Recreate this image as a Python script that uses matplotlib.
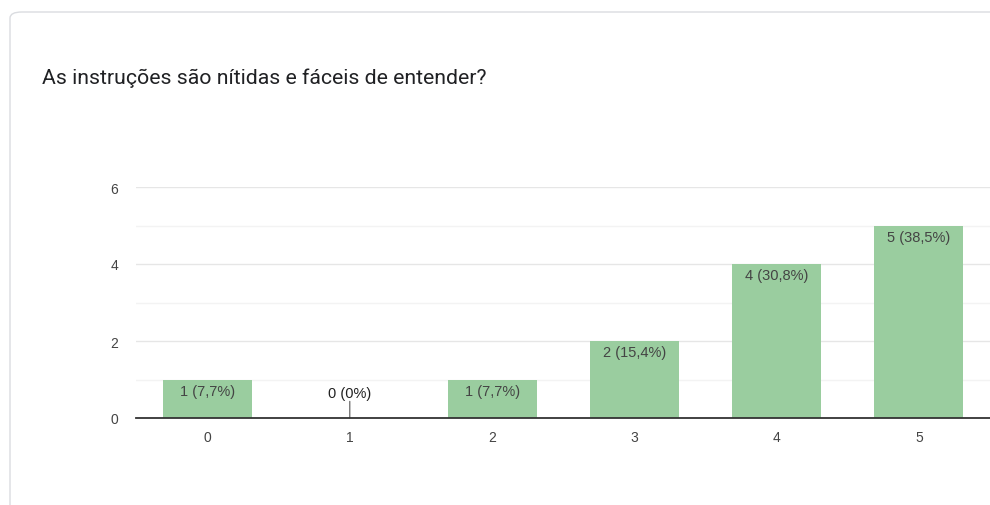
import numpy as np
import matplotlib.pyplot as plt
from matplotlib.patches import FancyBboxPatch

# --- DATEN ---
categories = ["0", "1", "2", "3", "4", "5"]
counts = [1, 0, 1, 2, 4, 5]
labels = ["1 (7,7%)", "0 (0%)", "1 (7,7%)", "2 (15,4%)", "4 (30,8%)", "5 (38,5%)"]
title = "As instruções são nítidas e fáceis de entender?"

W, H = 990, 506
BAR_COLOR = "#9acd9f"
TEXT_COLOR = "#444444"
CHART_FONT = ['Liberation Sans', 'DejaVu Sans']

plt.rcParams['font.family'] = ['Roboto', 'DejaVu Sans']

fig = plt.figure(figsize=(W / 100, H / 100), dpi=100)
fig.patch.set_facecolor("white")

# Karte mit abgerundetem Rand (rechts/unten abgeschnitten)
card = FancyBboxPatch((10 / W, -20 / H), 1.2, (H - 13 + 20) / H,
                      boxstyle="round,pad=0,rounding_size=0.012",
                      transform=fig.transFigure, facecolor="white",
                      edgecolor="#dadce0", linewidth=1.0, zorder=-5)
fig.patches.append(card)

fig.text(42 / W, 1 - 78 / H, title, fontsize=15.3, color="#202124",
         ha="left", va="center")

left, right = 136.4, 990
top, bottom = 188, 419
ax = fig.add_axes([left / W, 1 - bottom / H, (right - left) / W, (bottom - top) / H])
ax.set_facecolor("none")

x = np.arange(len(categories))
ax.bar(x, counts, width=0.626, color=BAR_COLOR, zorder=2)

ax.set_xlim(-0.5, 5.5)
ax.set_ylim(0, 6)

# Gitterlinien
for y in [1, 3, 5]:
    ax.axhline(y, color="#f3f3f3", linewidth=1, zorder=1)
for y in [2, 4, 6]:
    ax.axhline(y, color="#e6e6e6", linewidth=1, zorder=1)

ax.set_yticks([0, 2, 4, 6])
ax.set_xticks(x)
ax.set_xticklabels(categories)
ax.tick_params(axis="both", length=0, labelsize=10, labelcolor="#444444")
ax.tick_params(axis="x", pad=9)
ax.tick_params(axis="y", pad=13)
for t in ax.get_xticklabels() + ax.get_yticklabels():
    t.set_family(CHART_FONT)

for s in ["top", "right", "left"]:
    ax.spines[s].set_visible(False)
ax.spines["bottom"].set_color("#333333")
ax.spines["bottom"].set_linewidth(1.3)
ax.spines["bottom"].set_zorder(3)

# Beschriftungen
for xi, c, lab in zip(x, counts, labels):
    if c > 0:
        ax.annotate(lab, (xi, c), xytext=(0, -3), textcoords="offset points",
                    ha="center", va="top", fontsize=10.5, color=TEXT_COLOR,
                    family=CHART_FONT, zorder=4)
    else:
        ax.annotate("", (xi, 0), xytext=(0, 12), textcoords="offset points",
                    arrowprops=dict(arrowstyle="-", color="#555555", lw=0.8,
                                    shrinkA=0, shrinkB=0))
        ax.annotate(lab, (xi, 0), xytext=(0, 13), textcoords="offset points",
                    ha="center", va="bottom", fontsize=10.5, color="#222222",
                    family=CHART_FONT, zorder=4)

fig.savefig("out.png", dpi=100, facecolor="white")
